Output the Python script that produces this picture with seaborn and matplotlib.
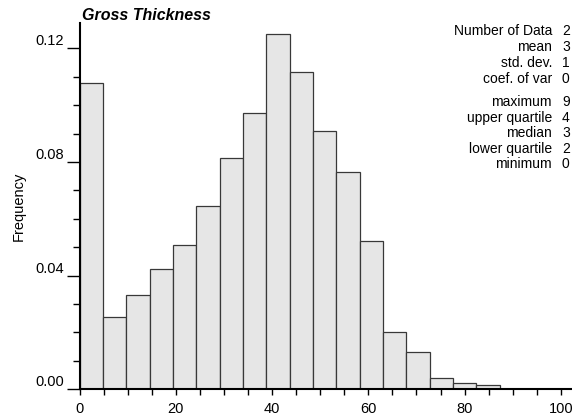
import numpy as np
import pandas as pd
import matplotlib
matplotlib.use("Agg")
import matplotlib.pyplot as plt
from matplotlib.ticker import MultipleLocator, FixedLocator
import seaborn as sns

# Histogram of gross thickness: 18 equal-width classes starting at zero
bin_width = 4.85
n_bins = 18
frequency = [0.1077, 0.0254, 0.0333, 0.0423, 0.0508, 0.0646, 0.0815, 0.0971,
             0.1250, 0.1115, 0.0908, 0.0764, 0.0522, 0.0203, 0.0130, 0.0040,
             0.0021, 0.0014]

# Summary statistics panel
stat_names = ["Number of Data", "mean", "std. dev.", "coef. of var",
              "maximum", "upper quartile", "median", "lower quartile", "minimum"]
stat_values = ["2", "3", "1", "0", "9", "4", "3", "2", "0"]

x_major = [0, 20, 40, 60, 80, 100]
y_major = [0.00, 0.04, 0.08, 0.12]
y_labels = ["0.00", "0.04", "0.08", "0.12"]

sns.set_theme(style="white")
plt.rcParams["font.family"] = ["Liberation Sans", "DejaVu Sans"]

df = pd.DataFrame({
    "thickness": (np.arange(n_bins) + 0.5) * bin_width,
    "freq": frequency,
})

fig = plt.figure(figsize=(5.72, 4.16), dpi=100)
ax = fig.add_axes([79.5 / 572, 26.7 / 416, 491 / 572, 366 / 416])

sns.histplot(data=df, x="thickness", weights="freq", binwidth=bin_width,
             binrange=(0, n_bins * bin_width), stat="count",
             color="#e6e6e6", edgecolor="#383838",
             linewidth=0.9, alpha=1, ax=ax)

ax.set_xlim(0, 102)
ax.set_ylim(0, 0.1288)

for side in ("top", "right"):
    ax.spines[side].set_visible(False)
for side in ("left", "bottom"):
    ax.spines[side].set_color("black")
    ax.spines[side].set_linewidth(1.5)

# x axis: labelled every 20, small ticks every 5
ax.xaxis.set_major_locator(FixedLocator(x_major))
ax.xaxis.set_minor_locator(MultipleLocator(5))
ax.set_xticklabels([str(v) for v in x_major])
ax.tick_params(axis="x", which="both", direction="out", length=4.5,
               width=1.0, color="black", bottom=True, pad=5,
               labelsize=10.5, labelcolor="black")

# y axis: labels sit above the long ticks, small ticks every 0.01
ax.yaxis.set_major_locator(FixedLocator(y_major))
ax.yaxis.set_minor_locator(MultipleLocator(0.01))
ax.set_yticklabels(y_labels)
ax.tick_params(axis="y", which="major", direction="out", length=9.4,
               width=1.0, color="black", left=True, pad=1.5,
               labelsize=10.5, labelcolor="black")
ax.tick_params(axis="y", which="minor", direction="out", length=5,
               width=1.0, color="black", left=True)
for lab in ax.get_yticklabels():
    lab.set_verticalalignment("bottom")

ax.set_xlabel("")
ax.set_ylabel("Frequency", fontsize=10.5, color="black", labelpad=7)
ax.grid(False)

fig.text(82 / 572, 1 - 15 / 416, "Gross Thickness", fontsize=11.5,
         fontweight="bold", fontstyle="italic", color="black",
         ha="left", va="center")

row_y = [31, 47, 63, 79, 102, 118, 133, 149, 164]
for name, val, y in zip(stat_names, stat_values, row_y):
    fig.text(552 / 572, 1 - y / 416, name, fontsize=10, ha="right",
             va="center", color="black")
    fig.text(562 / 572, 1 - y / 416, val, fontsize=10, ha="left",
             va="center", color="black")

fig.savefig("out.png", dpi=100)
